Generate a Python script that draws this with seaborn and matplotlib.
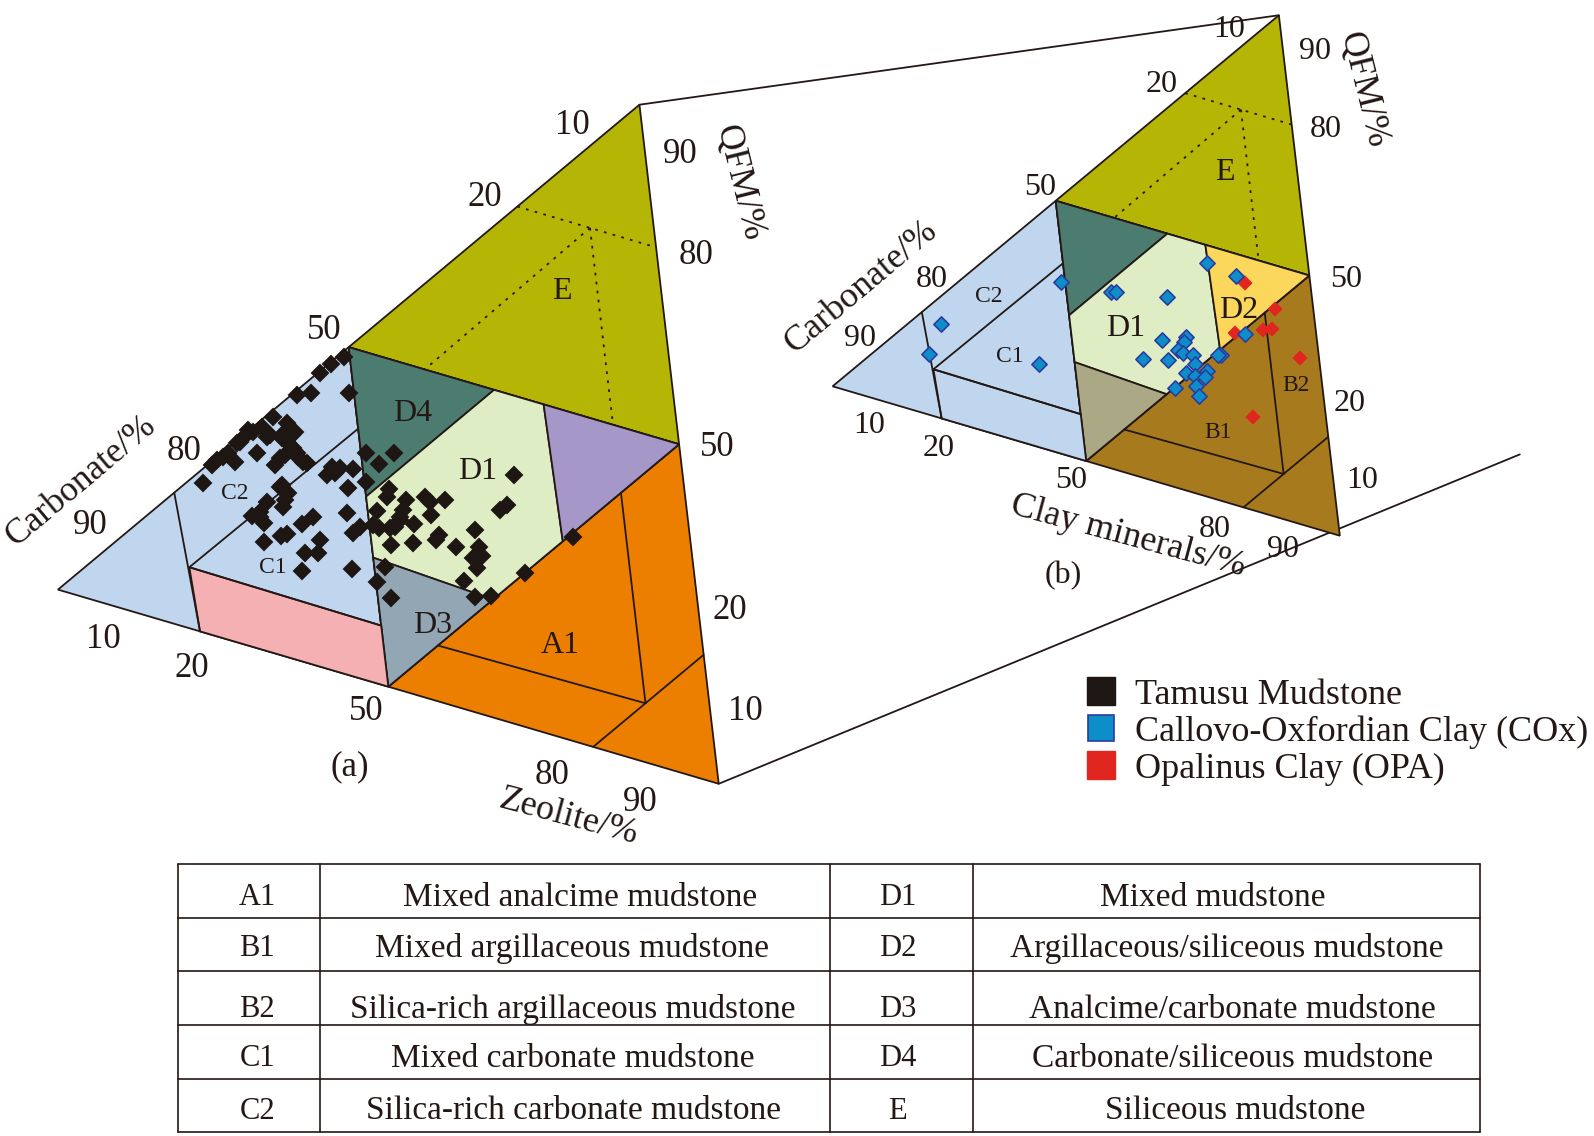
import matplotlib
matplotlib.use('AGG')

import matplotlib.pyplot as plt
from matplotlib.lines import Line2D
import pandas as pd
import seaborn as sns

S = 1594 / 1568

# points, in image pixels (ternary axes are skewed)
tamusu_x = [344, 331, 320, 311, 297, 349, 273, 287, 248, 262, 292, 267, 282, 240, 257, 235, 223, 212, 203, 293,
            285, 275, 303, 297, 332, 327, 340, 282, 288, 267, 283, 252, 264, 260, 313, 302, 287, 281, 264, 320,
            305, 318, 302, 217, 366, 394, 379, 353, 366, 348, 389, 387, 406, 425, 430, 445, 377, 403, 400, 431,
            347, 360, 353, 373, 379, 395, 414, 391, 413, 439, 436, 475, 507, 500, 514, 456, 479, 482, 473, 477,
            385, 377, 352, 391, 464, 475, 491, 525, 573,
            228, 237, 244, 253, 270, 285, 295, 288, 298, 307, 280, 335, 280, 285, 260, 400, 390]
tamusu_y = [357, 364, 373, 393, 395, 393, 417, 423, 430, 427, 435, 437, 438, 442, 453, 462, 457, 465, 483, 448,
            455, 465, 462, 453, 467, 475, 468, 485, 493, 502, 507, 516, 523, 512, 517, 524, 534, 536, 542, 540,
            553, 553, 571, 460, 453, 453, 464, 469, 482, 488, 489, 497, 500, 497, 502, 500, 511, 510, 517, 515,
            513, 527, 533, 525, 528, 527, 524, 545, 543, 535, 540, 530, 505, 510, 475, 547, 547, 556, 558, 568,
            567, 582, 569, 598, 581, 597, 596, 573, 537,
            453, 443, 437, 432, 435, 432, 432, 443, 457, 463, 458, 473, 487, 500, 517, 520, 528]
cox_x = [1207, 1236, 1061, 1111, 1116, 1167, 941, 929, 1039, 1162, 1186, 1184, 1178, 1183, 1193, 1195, 1143, 1168,
         1221, 1218, 1245, 1186, 1195, 1207, 1205, 1196, 1175, 1199]
cox_y = [263, 276, 282, 292, 292, 297, 324, 354, 364, 340, 337, 342, 350, 353, 355, 364, 359, 360,
         355, 355, 334, 373, 376, 371, 377, 386, 388, 396]
opa_x = [1245, 1235, 1275, 1263, 1272, 1300, 1253]
opa_y = [283, 333, 309, 330, 329, 358, 417]

# ternary fractions (QFM, carbonate, third end member)
region_verts = [
    [(100, 0, 0), (50, 50, 0), (50, 0, 50)],
    [(0, 100, 0), (50, 50, 0), (0, 50, 50)],
    [(50, 0, 50), (0, 0, 100), (0, 50, 50)],
    [(50, 50, 0), (50, 0, 50), (0, 50, 50)],
    [(50, 50, 0), (50, 28, 22), (28, 50, 22)],
    [(50, 28, 22), (50, 20.5, 29.5), (30, 20, 50), (18, 32, 50), (19, 50, 31), (28, 50, 22)],
    [(50, 20.5, 29.5), (50, 0, 50), (30, 20, 50)],
    [(19, 50, 31), (18, 32, 50), (0, 50, 50)],
    [(9.3, 79, 11.7), (0, 78.5, 21.5), (0, 50, 50), (9, 50, 41)],
]
colors_a = ['#b5b505', '#c0d5ee', '#ed7f00', '#dfedc5', '#4c7b70', '#dfedc5', '#a598c9', '#93a6b4', '#f4b0b2']
colors_b = ['#b5b505', '#c0d5ee', '#a87a1e', '#dfedc5', '#4c7b70', '#dfedc5', '#fbd75b', '#aba885', '#c0d5ee']

solid_lines = [
    [(20, 80, 0), (0, 78.5, 21.5)],
    [(38, 50, 12), (9.3, 79, 11.7)],
    [(9.3, 79, 11.7), (9, 50, 41)],
    [(8.5, 41.5, 50), (9, 10, 81)],
    [(40, 10, 50), (9, 10, 81)],
    [(19, 0, 81), (0, 19, 81)],
]
dotted_lines = [
    [(79, 21, 0), (79, 0, 21)],
    [(79, 10, 11), (50, 38.5, 11.5)],
    [(79, 10, 11), (50, 10, 40)],
]

table_left = ['A1', 'B1', 'B2', 'C1', 'C2']
table_left_names = ['Mixed analcime mudstone', 'Mixed argillaceous mudstone', 'Silica-rich argillaceous mudstone',
                    'Mixed carbonate mudstone', 'Silica-rich carbonate mudstone']
table_right = ['D1', 'D2', 'D3', 'D4', 'E']
table_right_names = ['Mixed mudstone', 'Argillaceous/siliceous mudstone', 'Analcime/carbonate mudstone',
                     'Carbonate/siliceous mudstone', 'Siliceous mudstone']
table_rows_y = [880, 930, 990, 1038, 1090]
table_left_x = [571, 563, 563, 563, 564]
table_right_x = [1193, 1207, 1212, 1212, 1215]
table_h = [850, 903, 955, 1008, 1061, 1114]
table_v = [175, 315, 816, 957, 1456]

corners_a = ((629, 103), (57, 580), (707, 771))
corners_b = ((1258, 15), (819, 380), (1318, 527))

sns.set_theme(style='white')
plt.rcParams['font.family'] = ['Liberation Serif', 'DejaVu Serif']
INK = '#231815'


def tern(corners, p):
    q, c, z = p[0] / 100, p[1] / 100, p[2] / 100
    x = q * corners[0][0] + c * corners[1][0] + z * corners[2][0]
    y = q * corners[0][1] + c * corners[1][1] + z * corners[2][1]
    return x * S, y * S


def label(x, y, s, size=25, rot=0):
    ax.text(x * S, (y + 3) * S, s, fontsize=size, rotation=rot, ha='center', va='center',
            color=INK, rotation_mode='anchor', zorder=8)


def draw_diagram(corners, colors):
    for verts, col in zip(region_verts, colors):
        ax.fill([tern(corners, v)[0] for v in verts], [tern(corners, v)[1] for v in verts],
                facecolor=col, edgecolor=INK, lw=1.3, zorder=2)
    for a, b in solid_lines:
        pa, pb = tern(corners, a), tern(corners, b)
        ax.plot([pa[0], pb[0]], [pa[1], pb[1]], color=INK, lw=1.3, zorder=3)
    for a, b in dotted_lines:
        pa, pb = tern(corners, a), tern(corners, b)
        ax.plot([pa[0], pb[0]], [pa[1], pb[1]], color=INK, lw=1.3, ls=(0, (1.5, 3.5)), zorder=3)


fig = plt.figure(figsize=(15.94, 11.36), dpi=100)
ax = fig.add_axes([0, 0, 1, 1])
ax.set_xlim(0, 1594)
ax.set_ylim(1136, 0)
ax.axis('off')

# connecting lines between the two diagrams
ax.plot([629 * S, 1258 * S], [103 * S, 15 * S], color=INK, lw=1.3, zorder=1)
ax.plot([707 * S, 1495 * S], [771 * S, 447 * S], color=INK, lw=1.3, zorder=1)

draw_diagram(corners_a, colors_a)
draw_diagram(corners_b, colors_b)

pts_a = pd.DataFrame({'x': tamusu_x, 'y': tamusu_y})
sns.scatterplot(data=pts_a, x='x', y='y', marker='D', s=92, color='#1e1613', edgecolor='none',
                ax=ax, zorder=6, legend=False)
pts_cox = pd.DataFrame({'x': cox_x, 'y': cox_y})
pts_opa = pd.DataFrame({'x': opa_x, 'y': opa_y})
sns.scatterplot(data=pts_opa, x='x', y='y', marker='D', s=60, color='#e1251f', edgecolor='none',
                ax=ax, zorder=6, legend=False)
sns.scatterplot(data=pts_cox, x='x', y='y', marker='D', s=60, color='#0e8ec9', edgecolor='#2a3c9f',
                linewidth=1.2, ax=ax, zorder=7, legend=False)
ax.set_xlim(0, 1594)
ax.set_ylim(1136, 0)
ax.set_xlabel('')
ax.set_ylabel('')

# panel a text
for x, y, s in [(563, 120, '10'), (477, 191, '20'), (319, 322, '50'), (181, 441, '80'), (89, 514, '90'),
                (669, 149, '90'), (685, 248, '80'), (706, 437, '50'), (718, 598, '20'), (733, 697, '10'),
                (102, 626, '10'), (189, 655, '20'), (360, 697, '50'), (543, 760, '80'), (630, 786, '90'),
                (344, 751, '(a)')]:
    label(x, y, s)
label(80, 470, 'Carbonate/%', 25.5, 40)
label(727, 177, 'QFM/%', 26, -76)
label(559, 801, 'Zeolite/%', 26, -15)
for x, y, s in [(553, 284, 'E'), (406, 404, 'D4'), (470, 461, 'D1'), (426, 612, 'D3'), (551, 632, 'A1')]:
    label(x, y, s, 23)
label(231, 482, 'C2', 17)
label(268, 555, 'C1', 17)

# panel b text
for x, y, s in [(1209, 26, '10'), (1143, 80, '20'), (1023, 181, '50'), (917, 272, '80'), (846, 330, '90'),
                (1294, 48, '90'), (1304, 124, '80'), (1324, 272, '50'), (1328, 394, '20'), (1340, 470, '10'),
                (855, 416, '10'), (923, 438, '20'), (1054, 470, '50'), (1195, 518, '80'), (1262, 538, '90'),
                (1046, 563, '(b)')]:
    label(x, y, s, 23)
label(847, 279, 'Carbonate/%', 26, 40)
label(1341, 86, 'QFM/%', 26, -76)
label(1110, 525, 'Clay minerals/%', 26, -15)
for x, y, s in [(1205, 167, 'E'), (1218, 302, 'D2'), (1107, 320, 'D1')]:
    label(x, y, s, 23)
for x, y, s in [(973, 289, 'C2'), (993, 348, 'C1'), (1198, 422, 'B1'), (1275, 376, 'B2')]:
    label(x, y, s, 17)

# legend
handles = [
    Line2D([], [], ls='none', marker='s', ms=20, mfc='#1e1613', mec='#1e1613'),
    Line2D([], [], ls='none', marker='s', ms=19, mfc='#0e8ec9', mec='#2a3c9f', mew=1.2),
    Line2D([], [], ls='none', marker='s', ms=20, mfc='#e1251f', mec='#e1251f'),
]
ax.legend(handles, ['Tamusu Mudstone', 'Callovo-Oxfordian Clay (COx)', 'Opalinus Clay (OPA)'],
          loc='upper left', bbox_to_anchor=(1065 * S, 667.5 * S), bbox_transform=ax.transData,
          frameon=False, fontsize=26, labelspacing=0.1, handlelength=1, handletextpad=0.45,
          borderpad=0, borderaxespad=0, labelcolor=INK)

# table
for y in table_h:
    ax.plot([table_v[0] * S, table_v[-1] * S], [y * S, y * S], color=INK, lw=1.2, zorder=3)
for x in table_v:
    ax.plot([x * S, x * S], [table_h[0] * S, table_h[-1] * S], color=INK, lw=1.2, zorder=3)
for i, y in enumerate(table_rows_y):
    label(253, y, table_left[i], 22)
    label(table_left_x[i], y, table_left_names[i], 24)
    label(883, y, table_right[i], 22)
    label(table_right_x[i], y, table_right_names[i], 24)

fig.savefig('out.png', dpi=100)
